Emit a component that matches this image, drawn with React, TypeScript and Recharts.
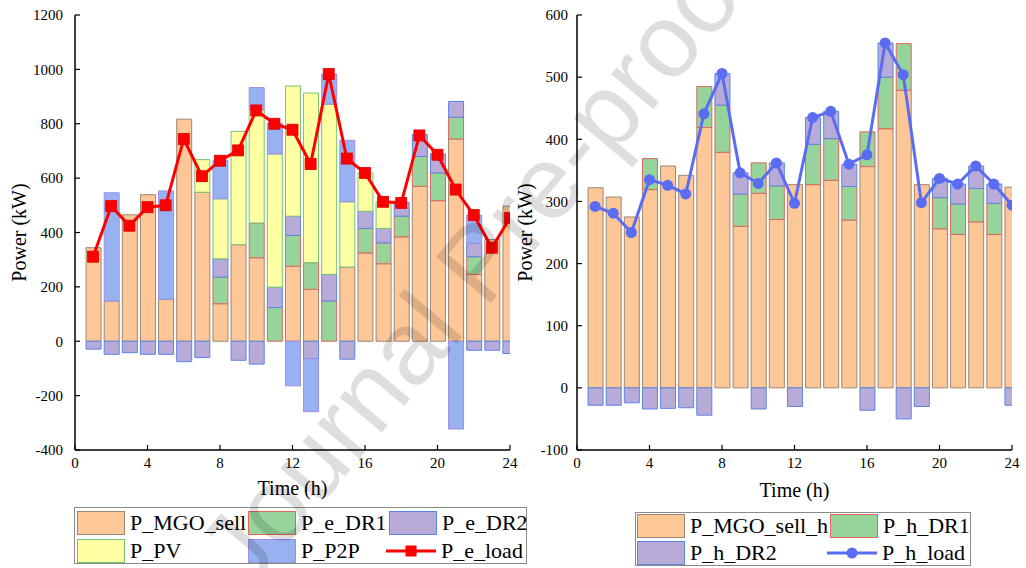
import { ComposedChart, Bar, Line, XAxis, YAxis, Legend } from 'recharts';

// hourly dispatch, electric side (kW)
const hours = [1, 2, 3, 4, 5, 6, 7, 8, 9, 10, 11, 12, 13, 14, 15, 16, 17, 18, 19, 20, 21, 22, 23, 24];
const mgoSell = [344, 148, 465, 539, 154, 817, 548, 138, 355, 307, 0, 276, 191, 0, 273, 325, 285, 384, 570, 517, 744, 246, 374, 497];
const eDR1 = [0, 0, 0, 0, 0, 0, 0, 98, 0, 128, 124, 113, 98, 148, 0, 90, 77, 76, 110, 102, 80, 65, 0, 0];
const eDR2 = [0, 0, 0, 0, 0, 0, 0, 67, 0, 0, 75, 71, 0, 98, 0, 63, 53, 51, 80, 70, 58, 49, 0, 0];
const eDR2Down = [-29, -48, -42, -48, -48, -75, -60, 0, -70, -84, 0, 0, -64, 0, -66, 0, 0, 0, 0, 0, 0, -33, -33, -45];
const pv = [0, 0, 0, 0, 0, 0, 120, 221, 417, 416, 490, 479, 624, 626, 240, 141, 98, 0, 0, 0, 0, 0, 0, 0];
const p2p = [0, 398, 0, 0, 399, 0, 0, 142, 0, 82, 113, -164, -195, 111, 226, 0, 0, 0, 0, 0, -323, 104, 0, 0];
const eLoad = [311, 497, 425, 493, 500, 744, 607, 664, 702, 849, 800, 778, 652, 983, 672, 619, 513, 509, 757, 686, 558, 464, 344, 454];

// hourly dispatch, heat side (kW)
const mgoSellH = [322, 307, 275, 319, 357, 342, 419, 379, 260, 313, 271, 327, 327, 334, 270, 356, 417, 479, 327, 256, 247, 267, 247, 323];
const hDR1 = [0, 0, 0, 50, 0, 0, 66, 76, 52, 49, 54, 0, 65, 67, 54, 56, 83, 75, 0, 50, 49, 54, 50, 0];
const hDR2 = [-28, -28, -24, -34, -33, -32, -44, 51, 34, -34, 37, -30, 43, 44, 36, -36, 55, -50, -30, 31, 32, 36, 31, -28];
const hLoad = [292, 281, 250, 335, 326, 312, 441, 506, 346, 329, 362, 297, 435, 445, 360, 375, 555, 504, 298, 337, 328, 357, 328, 294];

const hourTicks = [0, 4, 8, 12, 16, 20, 24];
const eTicks = [-400, -200, 0, 200, 400, 600, 800, 1000, 1200];
const hTicks = [-100, 0, 100, 200, 300, 400, 500, 600];

const elecData = hours.map((hour, i) => ({
  hour,
  mgoSell: mgoSell[i],
  eDR1: eDR1[i],
  eDR2: eDR2[i],
  eDR2Down: eDR2Down[i],
  pv: pv[i],
  p2p: p2p[i],
  eLoad: eLoad[i],
}));

const heatData = hours.map((hour, i) => ({
  hour,
  mgoSellH: mgoSellH[i],
  hDR1: hDR1[i],
  hDR2: hDR2[i],
  hLoad: hLoad[i],
}));

const SERIF = '"Liberation Serif", "Times New Roman", serif';

const ORANGE = '#FDC797';
const ORANGE_EDGE = '#9E8674';
const GREEN = '#96D49C';
const GREEN_EDGE = '#E0675A';
const LAVENDER = '#B8ABD8';
const LAVENDER_EDGE = '#5A85E6';
const YELLOW = '#FFFFA4';
const YELLOW_EDGE = '#74C474';
const BLUE = '#98B2F1';
const BLUE_EDGE = '#9D8EE0';
const RED = '#FF0000';
const LINE_BLUE = '#5A6CF2';

const tickStyle = { fontFamily: SERIF, fontSize: 15, fill: '#000' };
const axisLine = { stroke: '#000', strokeWidth: 1.5 };
const tickLine = { stroke: '#000', strokeWidth: 1.2 };
const labelStyle = { fontFamily: SERIF, fontSize: 20, fill: '#000', textAnchor: 'middle' as const };

type LegendItem = { name: string; fill: string; stroke: string; kind: 'box' | 'square' | 'circle' };

const elecLegend: LegendItem[] = [
  { name: 'P_MGO_sell', fill: ORANGE, stroke: ORANGE_EDGE, kind: 'box' },
  { name: 'P_e_DR1', fill: GREEN, stroke: GREEN_EDGE, kind: 'box' },
  { name: 'P_e_DR2', fill: LAVENDER, stroke: LAVENDER_EDGE, kind: 'box' },
  { name: 'P_PV', fill: YELLOW, stroke: YELLOW_EDGE, kind: 'box' },
  { name: 'P_P2P', fill: BLUE, stroke: BLUE_EDGE, kind: 'box' },
  { name: 'P_e_load', fill: RED, stroke: RED, kind: 'square' },
];

const heatLegend: LegendItem[] = [
  { name: 'P_MGO_sell_h', fill: ORANGE, stroke: ORANGE_EDGE, kind: 'box' },
  { name: 'P_h_DR1', fill: GREEN, stroke: GREEN_EDGE, kind: 'box' },
  { name: 'P_h_DR2', fill: LAVENDER, stroke: LAVENDER_EDGE, kind: 'box' },
  { name: 'P_h_load', fill: LINE_BLUE, stroke: LINE_BLUE, kind: 'circle' },
];

function BoxLegend({ items, cols, rows, rowH }: { items: LegendItem[]; cols: number[]; rows: number[]; rowH: number }) {
  return (
    <div
      style={{
        position: 'relative',
        width: '100%',
        height: '100%',
        boxSizing: 'border-box',
        border: '1px solid #8a8a8a',
        fontFamily: SERIF,
        fontSize: 22,
        color: '#000',
        background: '#fff',
      }}
    >
      {items.map((it, i) => {
        const left = cols[i % cols.length];
        const top = rows[Math.floor(i / cols.length)];
        return (
          <div key={it.name} style={{ position: 'absolute', left, top, height: rowH, display: 'flex', alignItems: 'center' }}>
            {it.kind === 'box' ? (
              <div style={{ width: 46, height: rowH - 2, background: it.fill, border: `1px solid ${it.stroke}` }} />
            ) : (
              <svg width={50} height={rowH} style={{ marginLeft: -3 }}>
                <line x1={0} x2={50} y1={rowH / 2} y2={rowH / 2} stroke={it.stroke} strokeWidth={3} />
                {it.kind === 'square' ? (
                  <rect x={19.5} y={rowH / 2 - 5.5} width={11} height={11} fill={it.fill} />
                ) : (
                  <circle cx={25} cy={rowH / 2} r={5.5} fill={it.fill} />
                )}
              </svg>
            )}
            <span style={{ marginLeft: 5, lineHeight: 1, whiteSpace: 'nowrap' }}>{it.name}</span>
          </div>
        );
      })}
    </div>
  );
}

const SquareDot = (props: any) => {
  const { cx, cy, index } = props;
  if (cx == null || cy == null) return null;
  return <rect key={`sq-${index}`} x={cx - 5.5} y={cy - 5.5} width={11} height={11} fill={RED} stroke="#E00000" strokeWidth={0.8} />;
};

const RoundDot = (props: any) => {
  const { cx, cy, index } = props;
  if (cx == null || cy == null) return null;
  return <circle key={`rd-${index}`} cx={cx} cy={cy} r={5.5} fill={LINE_BLUE} />;
};

function ElectricChart() {
  return (
    <ComposedChart width={530} height={568} data={elecData} stackOffset="sign" margin={{ top: 15, right: 20, bottom: 70, left: 0 }}>
      <XAxis
        type="number"
        dataKey="hour"
        domain={[0, 24]}
        ticks={hourTicks}
        allowDataOverflow
        height={48}
        tick={tickStyle}
        tickSize={-5}
        tickMargin={12}
        axisLine={axisLine}
        tickLine={tickLine}
        label={{ value: 'Time (h)', position: 'insideBottom', offset: 3, style: labelStyle }}
      />
      <YAxis
        domain={[-400, 1200]}
        ticks={eTicks}
        width={75}
        tick={tickStyle}
        tickSize={-5}
        tickMargin={17}
        axisLine={axisLine}
        tickLine={tickLine}
        label={{ value: 'Power (kW)', angle: -90, position: 'insideLeft', offset: 19, style: labelStyle }}
      />
      <Bar dataKey="mgoSell" name="P_MGO_sell" stackId="e" barSize={15} fill={ORANGE} stroke={ORANGE_EDGE} isAnimationActive={false} />
      <Bar dataKey="eDR1" name="P_e_DR1" stackId="e" barSize={15} fill={GREEN} stroke={GREEN_EDGE} isAnimationActive={false} />
      <Bar dataKey="eDR2" name="P_e_DR2" stackId="e" barSize={15} fill={LAVENDER} stroke={LAVENDER_EDGE} isAnimationActive={false} />
      <Bar dataKey="eDR2Down" name="P_e_DR2" stackId="e" barSize={15} fill={LAVENDER} stroke={LAVENDER_EDGE} isAnimationActive={false} />
      <Bar dataKey="pv" name="P_PV" stackId="e" barSize={15} fill={YELLOW} stroke={YELLOW_EDGE} isAnimationActive={false} />
      <Bar dataKey="p2p" name="P_P2P" stackId="e" barSize={15} fill={BLUE} stroke={BLUE_EDGE} isAnimationActive={false} />
      <Line dataKey="eLoad" name="P_e_load" stroke={RED} strokeWidth={3} dot={SquareDot} activeDot={false} isAnimationActive={false} />
      <Legend
        layout="horizontal"
        verticalAlign="middle"
        align="center"
        wrapperStyle={{ left: 74, top: 507, width: 453, height: 57 }}
        content={() => <BoxLegend items={elecLegend} cols={[2, 173, 314]} rows={[3, 31]} rowH={24} />}
      />
    </ComposedChart>
  );
}

function HeatChart() {
  return (
    <ComposedChart width={530} height={568} data={heatData} stackOffset="sign" margin={{ top: 15, right: 14, bottom: 70, left: 0 }}>
      <XAxis
        type="number"
        dataKey="hour"
        domain={[0, 24]}
        ticks={hourTicks}
        allowDataOverflow
        height={48}
        tick={tickStyle}
        tickSize={-5}
        tickMargin={12}
        axisLine={axisLine}
        tickLine={tickLine}
        label={{ value: 'Time (h)', position: 'insideBottom', offset: 1, style: labelStyle }}
      />
      <YAxis
        domain={[-100, 600]}
        ticks={hTicks}
        width={81}
        tick={tickStyle}
        tickSize={-5}
        tickMargin={14}
        axisLine={axisLine}
        tickLine={tickLine}
        label={{ value: 'Power (kW)', angle: -90, position: 'insideLeft', offset: 29, style: labelStyle }}
      />
      <Bar dataKey="mgoSellH" name="P_MGO_sell_h" stackId="h" barSize={15} fill={ORANGE} stroke={ORANGE_EDGE} isAnimationActive={false} />
      <Bar dataKey="hDR1" name="P_h_DR1" stackId="h" barSize={15} fill={GREEN} stroke={GREEN_EDGE} isAnimationActive={false} />
      <Bar dataKey="hDR2" name="P_h_DR2" stackId="h" barSize={15} fill={LAVENDER} stroke={LAVENDER_EDGE} isAnimationActive={false} />
      <Line dataKey="hLoad" name="P_h_load" stroke={LINE_BLUE} strokeWidth={3} dot={RoundDot} activeDot={false} isAnimationActive={false} />
      <Legend
        layout="horizontal"
        verticalAlign="middle"
        align="center"
        wrapperStyle={{ left: 139, top: 512, width: 336, height: 54 }}
        content={() => <BoxLegend items={heatLegend} cols={[1, 194]} rows={[1, 28]} rowH={24} />}
      />
    </ComposedChart>
  );
}

export default function App() {
  return (
    <div style={{ position: 'absolute', left: 0, top: 0, width: 1026, height: 568, overflow: 'hidden', background: '#fff' }}>
      <div style={{ position: 'absolute', left: 0, top: 0 }}>
        <ElectricChart />
      </div>
      <div style={{ position: 'absolute', left: 496, top: 0 }}>
        <HeatChart />
      </div>
      <svg width={1026} height={568} style={{ position: 'absolute', left: 0, top: 0, pointerEvents: 'none' }}>
        <text
          x={478}
          y={262}
          textAnchor="middle"
          dominantBaseline="central"
          fontFamily='"Liberation Sans", Arial, sans-serif'
          fontSize={104}
          fill="rgba(0,0,0,0.13)"
          transform="rotate(-50 478 262)"
        >
          Journal Pre-proof
        </text>
      </svg>
    </div>
  );
}
